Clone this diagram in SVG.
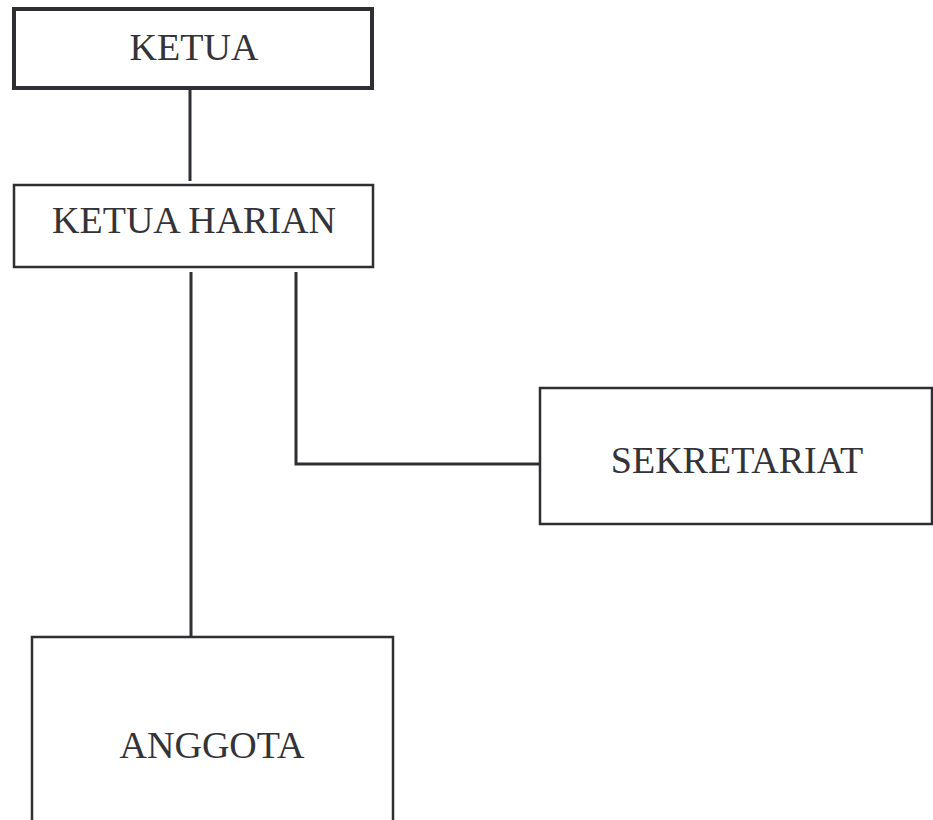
<svg xmlns="http://www.w3.org/2000/svg" width="933" height="820" viewBox="0 0 933 820">
<style>
.box{fill:#ffffff;stroke:#2e2e33;stroke-width:2.5}
.thick{stroke-width:4}
.lbl{font-family:"Liberation Serif","Times New Roman",serif;font-size:38px;fill:#333338;text-anchor:middle}
.conn{fill:none;stroke:#2e2e33;stroke-width:3}
</style>
<rect width="933" height="820" fill="#ffffff"/>
<g id="connectors">
<line class="conn" x1="190" y1="88" x2="190" y2="181"/>
<line class="conn" x1="191" y1="272" x2="191" y2="637"/>
<polyline class="conn" points="296,272 296,464 540,464"/>
</g>
<g id="ketua">
<rect class="box thick" x="14" y="9" width="358" height="79"/>
<text class="lbl" x="194" y="60">KETUA</text>
</g>
<g id="ketua-harian">
<rect class="box" x="14" y="185" width="359" height="82"/>
<text class="lbl" x="194" y="233">KETUA HARIAN</text>
</g>
<g id="sekretariat">
<rect class="box" x="540" y="388" width="392" height="136"/>
<text class="lbl" x="737" y="473">SEKRETARIAT</text>
</g>
<g id="anggota">
<rect class="box" x="32" y="637" width="361" height="200"/>
<text class="lbl" x="212" y="758">ANGGOTA</text>
</g>
</svg>
